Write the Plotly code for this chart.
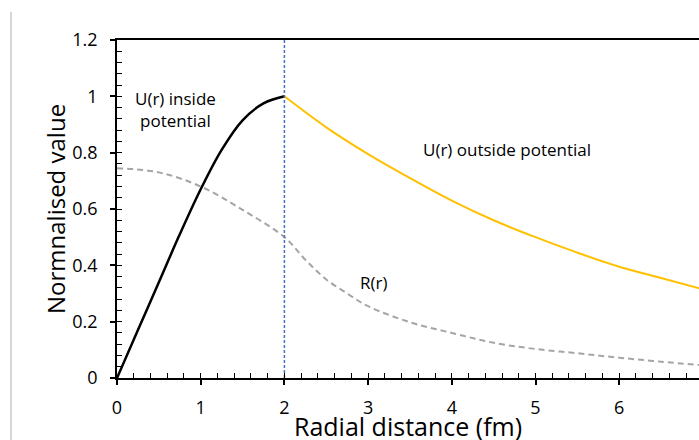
import plotly.graph_objects as go

# U(r) inside potential (0 to 2 fm)
r_in = [0, 0.25, 0.5, 0.75, 1.0, 1.25, 1.5, 1.75, 2.0]
u_in = [0, 0.17, 0.34, 0.51, 0.67, 0.81, 0.915, 0.975, 1.0]

# U(r) outside potential (2 to 7 fm)
r_out = [2.0, 2.5, 3.0, 3.5, 4.0, 4.5, 5.0, 5.5, 6.0, 6.5, 7.0]
u_out = [1.0, 0.89, 0.795, 0.71, 0.63, 0.56, 0.50, 0.445, 0.395, 0.355, 0.315]

# R(r)
r_R = [0, 0.5, 1.0, 1.5, 2.0, 2.25, 2.5, 2.75, 3.0, 3.5, 4.0, 4.5, 5.0, 5.5, 6.0, 6.5, 7.0]
R_vals = [0.745, 0.73, 0.68, 0.597, 0.50, 0.42, 0.35, 0.30, 0.255, 0.198, 0.16, 0.125, 0.103, 0.088, 0.072, 0.058, 0.045]

boundary_x = [2, 2]
boundary_y = [0, 1.2]

x_title = "Radial distance (fm)"
y_title = "Normnalised value"

FONT = "Open Sans"
XMAX = (699 - 117) / 83.7
PW, PH = 582, 338

fig = go.Figure()
fig.add_trace(go.Scatter(x=r_R, y=R_vals, mode="lines", line=dict(color="#A5A5A5", width=2, dash="6px,4px"), line_shape="spline", showlegend=False))
fig.add_trace(go.Scatter(x=r_in, y=u_in, mode="lines", line=dict(color="#000000", width=2.5), line_shape="spline", showlegend=False))
fig.add_trace(go.Scatter(x=r_out, y=u_out, mode="lines", line=dict(color="#FFC000", width=2), line_shape="spline", showlegend=False))
fig.add_trace(go.Scatter(x=boundary_x, y=boundary_y, mode="lines", line=dict(color="#4472C4", width=1.5, dash="3px,2px"), showlegend=False))
# invisible trace for minor-tick overlay axes
fig.add_trace(go.Scatter(x=[0], y=[0], xaxis="x2", yaxis="y2", mode="markers", marker=dict(opacity=0), showlegend=False, hoverinfo="skip"))

fig.update_layout(
    width=699, height=440,
    margin=dict(l=117, r=0, t=40, b=62),
    paper_bgcolor="white", plot_bgcolor="white",
    font=dict(family=FONT, color="#000000"),
    xaxis=dict(range=[0, XMAX], tickmode="linear", tick0=0, dtick=1, ticks="outside", ticklen=5, tickwidth=1.5,
               tickcolor="black", showline=True, linecolor="black", linewidth=1.5, mirror=True, automargin=False,
               showgrid=False, zeroline=False, tickfont=dict(size=18, family=FONT), ticklabelstandoff=8),
    yaxis=dict(range=[0, 1.2], tickmode="linear", tick0=0, dtick=0.2, ticks="outside", ticklen=5, tickwidth=1.5,
               tickcolor="black", showline=True, linecolor="black", linewidth=1.5, automargin=False,
               showgrid=False, zeroline=False, tickfont=dict(size=18, family=FONT), ticklabelstandoff=9,
               tickformat="~g"),
    xaxis2=dict(range=[0, XMAX], overlaying="x", anchor="y", side="bottom", tickmode="linear", tick0=0, dtick=0.2,
                ticks="inside", ticklen=5, tickwidth=1.2, tickcolor="black", showticklabels=False,
                showline=False, showgrid=False, zeroline=False),
    yaxis2=dict(range=[0, 1.2], overlaying="y", anchor="x", side="left", tickmode="linear", tick0=0, dtick=0.04,
                ticks="inside", ticklen=5, tickwidth=1.2, tickcolor="black", showticklabels=False,
                showline=False, showgrid=False, zeroline=False),
    annotations=[
        dict(text=x_title, x=(408 - 117) / PW, y=(378 - 426) / PH, xref="paper", yref="paper", showarrow=False,
             xanchor="center", yanchor="middle", font=dict(size=25, family=FONT)),
        dict(text=y_title, x=(55 - 117) / PW, y=0.5, xref="paper", yref="paper", showarrow=False, textangle=-90,
             xanchor="center", yanchor="middle", font=dict(size=24, family=FONT)),
        dict(text="U(r) inside<br>potential", x=0.7, y=0.955, xref="x", yref="y", showarrow=False,
             font=dict(size=17, family=FONT), align="center"),
        dict(text="U(r) outside potential", x=4.66, y=0.81, xref="x", yref="y", showarrow=False,
             font=dict(size=17, family=FONT)),
        dict(text="R(r)", x=3.07, y=0.34, xref="x", yref="y", showarrow=False,
             font=dict(size=17, family=FONT)),
        dict(text="7", x=7, y=-0.1, xref="x", yref="y", showarrow=False,
             font=dict(size=18, family=FONT)),
    ],
    shapes=[
        dict(type="line", xref="paper", yref="paper", x0=-106/PW, x1=-106/PW, y0=-62/PH, y1=(378-12)/PH,
             line=dict(color="#C8C8C8", width=1.5)),
    ],
)

fig.write_html("out.html")
